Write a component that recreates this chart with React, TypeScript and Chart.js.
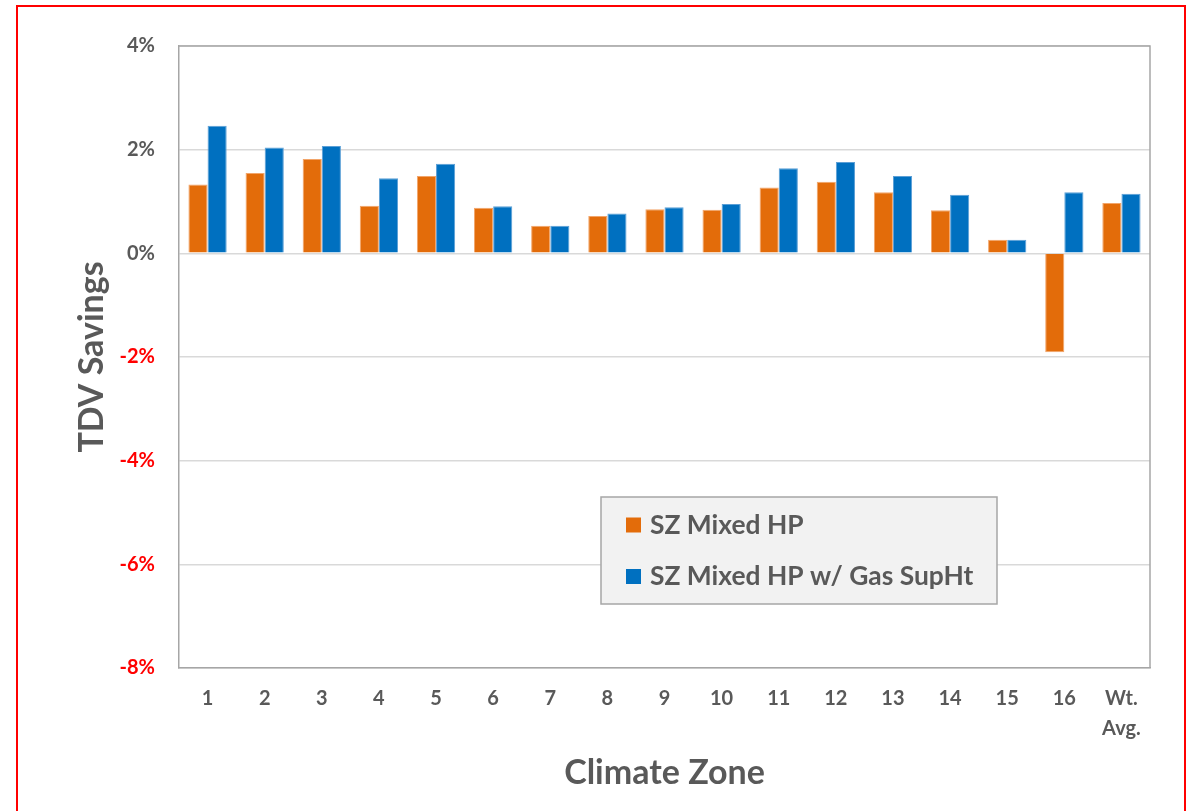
import React, { useEffect, useRef } from "react";
import { Chart, registerables } from "chart.js";

Chart.register(...registerables);

const categories: (string | string[])[] = [
  "1", "2", "3", "4", "5", "6", "7", "8", "9", "10", "11", "12", "13", "14", "15", "16", ["Wt.", "Avg."],
];
const seriesNames = ["SZ Mixed HP", "SZ Mixed HP w/ Gas SupHt"];
const mixedHP = [1.33, 1.55, 1.82, 0.92, 1.49, 0.88, 0.53, 0.72, 0.85, 0.84, 1.27, 1.38, 1.18, 0.83, 0.26, -1.91, 0.97];
const mixedHPGas = [2.46, 2.04, 2.07, 1.45, 1.73, 0.91, 0.53, 0.77, 0.89, 0.95, 1.64, 1.76, 1.49, 1.13, 0.26, 1.18, 1.15];
const yMin = -8;
const yMax = 4;
const yStep = 2;
const xTitle = "Climate Zone";
const yTitle = "TDV Savings";

const FONT = "Lato";
const GRAY = "#595959";
const RED = "#ff0000";
const ORANGE = "#e36c0a";
const BLUE = "#0070c0";

const framePlugin = {
  id: "frame",
  afterDatasetsDraw(chart: any) {
    const { ctx, chartArea } = chart;
    ctx.save();
    ctx.strokeStyle = "#a6a6a6";
    ctx.lineWidth = 1.5;
    ctx.beginPath();
    ctx.moveTo(chartArea.left, chartArea.top);
    ctx.lineTo(chartArea.right, chartArea.top);
    ctx.lineTo(chartArea.right, chartArea.bottom);
    ctx.stroke();
    ctx.restore();
  },
};

const boxLegendPlugin = {
  id: "boxLegend",
  afterDraw(chart: any) {
    const ctx = chart.ctx;
    ctx.save();
    const x = 601, y = 497, w = 396, h = 107;
    ctx.fillStyle = "#f2f2f2";
    ctx.fillRect(x, y, w, h);
    ctx.strokeStyle = "#a6a6a6";
    ctx.lineWidth = 1.5;
    ctx.strokeRect(x, y, w, h);
    chart.data.datasets.forEach((ds: any, i: number) => {
      const cy = 525 + i * 51.5;
      ctx.fillStyle = ds.backgroundColor;
      ctx.fillRect(626, cy - 7.5, 15, 15);
      ctx.fillStyle = GRAY;
      ctx.font = `bold 26.4px ${FONT}`;
      ctx.textBaseline = "middle";
      ctx.textAlign = "left";
      ctx.fillText(ds.label, 650, cy);
    });
    ctx.restore();
  },
};

export default function App() {
  const canvasRef = useRef<HTMLCanvasElement | null>(null);

  useEffect(() => {
    let chart: Chart | null = null;
    let cancelled = false;
    const make = () => {
      if (cancelled || !canvasRef.current) return;
      chart = new Chart(canvasRef.current, {
        type: "bar",
        data: {
          labels: categories as any,
          datasets: [
            {
              label: seriesNames[0],
              data: mixedHP,
              backgroundColor: ORANGE,
              borderColor: "#f2a56a",
              borderWidth: 1,
              barPercentage: 1,
              categoryPercentage: 0.67,
            },
            {
              label: seriesNames[1],
              data: mixedHPGas,
              backgroundColor: BLUE,
              borderColor: "#5b9fd6",
              borderWidth: 1,
              barPercentage: 1,
              categoryPercentage: 0.67,
            },
          ],
        },
        options: {
          responsive: false,
          animation: false,
          devicePixelRatio: 1,
          layout: { padding: { top: 46, right: 37, left: 0, bottom: 0 } },
          plugins: {
            legend: { display: false },
            tooltip: { enabled: false },
          },
          scales: {
            x: {
              grid: { display: false, drawTicks: false },
              border: { display: true, color: "#a6a6a6", width: 1.5 },
              ticks: {
                color: GRAY,
                font: { family: FONT, weight: "bold", size: 20, lineHeight: 1.5 },
                padding: 16,
                maxRotation: 0,
                autoSkip: false,
              },
              title: {
                display: true,
                text: xTitle,
                color: GRAY,
                font: { family: FONT, weight: "bold", size: 34, lineHeight: 1.2 },
                padding: { top: 0, bottom: 18 },
              },
              afterFit(scale: any) {
                scale.height = 143;
              },
            },
            y: {
              min: yMin,
              max: yMax,
              ticks: {
                stepSize: yStep,
                color: (c: any) => (c.tick && c.tick.value < 0 ? RED : GRAY),
                font: { family: FONT, weight: "bold", size: 20 },
                padding: 24,
                callback: (v: any) => `${v}%`,
              },
              grid: { color: "#d9d9d9", lineWidth: 1.5, drawTicks: false },
              border: { display: true, color: "#a6a6a6", width: 1.5 },
              title: {
                display: true,
                text: yTitle,
                color: GRAY,
                font: { family: FONT, weight: "bold", size: 34, lineHeight: 1.2 },
                padding: { top: 72, bottom: 0 },
              },
              afterFit(scale: any) {
                scale.width = 179;
              },
            },
          },
        },
        plugins: [framePlugin, boxLegendPlugin],
      });
    };
    const fontsReady = (document as any).fonts
      ? Promise.all([
          (document as any).fonts.load(`bold 20px ${FONT}`),
          (document as any).fonts.load(`bold 34px ${FONT}`),
        ]).catch(() => null)
      : Promise.resolve(null);
    fontsReady.then(make);
    return () => {
      cancelled = true;
      if (chart) chart.destroy();
    };
  }, []);

  return (
    <div style={{ position: "fixed", left: 0, top: 0, width: 1187, height: 811, background: "#fff", overflow: "hidden" }}>
      <div
        style={{
          position: "absolute",
          left: 16,
          top: 5,
          width: 1170,
          height: 900,
          border: "2px solid #ff0000",
          boxSizing: "border-box",
        }}
      />
      <canvas
        ref={canvasRef}
        width={1187}
        height={811}
        style={{ position: "absolute", left: 0, top: 0, width: 1187, height: 811 }}
      />
    </div>
  );
}
